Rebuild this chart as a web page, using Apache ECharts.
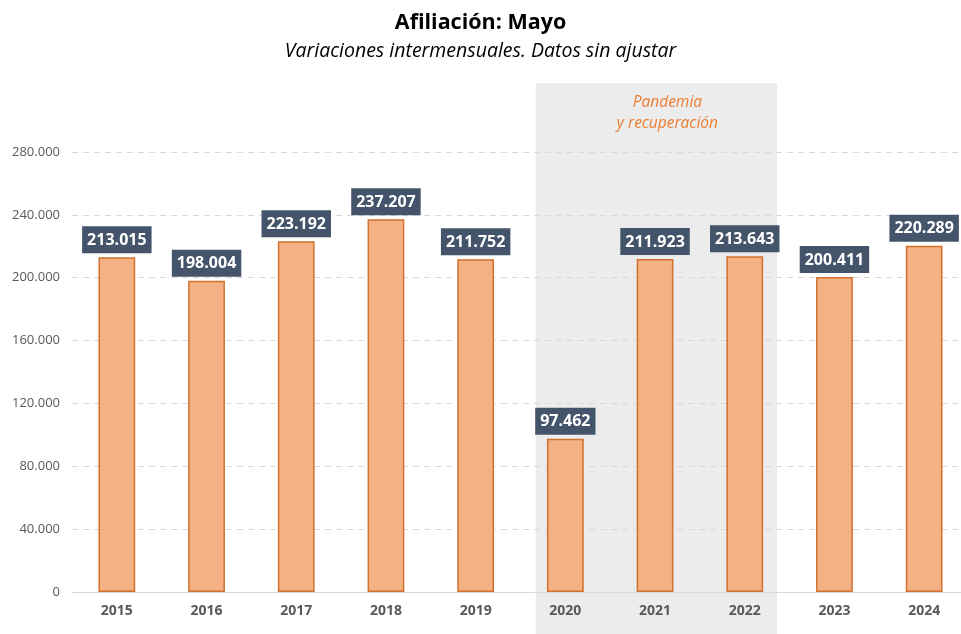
<!DOCTYPE html>
<html>
<head>
<meta charset="utf-8">
<script src="https://cdn.jsdelivr.net/npm/echarts@6/dist/echarts.min.js"></script>
<style>
  html, body { margin: 0; padding: 0; background: #fff; }
  #main { width: 961px; height: 634px; }
</style>
</head>
<body>
<div id="main"></div>
<script>
// datos
var years = ['2015', '2016', '2017', '2018', '2019', '2020', '2021', '2022', '2023', '2024'];
var afiliados = [213015, 198004, 223192, 237207, 211752, 97462, 211923, 213643, 200411, 220289];
var yTicks = [0, 40000, 80000, 120000, 160000, 200000, 240000, 280000];
// tramo sombreado (pandemia), en posiciones de categoria
var tramoPandemia = [4.67, 7.36];

function fmt(v) {
	return String(v).replace(/\B(?=(\d{3})+(?!\d))/g, '.');
}

var myChart = echarts.init(document.getElementById('main'));
var option = {
	backgroundColor: '#fff',
	animation: false,
	title: {
		text: 'Afiliación: Mayo',
		subtext: 'Variaciones intermensuales. Datos sin ajustar',
		left: 'center',
		top: 7,
		itemGap: 7,
		textStyle: {
			fontFamily: 'Open Sans',
			fontSize: 21.5,
			fontWeight: 'bold',
			color: '#000'
		},
		subtextStyle: {
			fontFamily: 'Open Sans',
			fontSize: 19.5,
			fontStyle: 'italic',
			color: '#000'
		}
	},
	grid: {
		left: 72,
		width: 897,
		top: 152,
		bottom: 42,
		containLabel: false,
		outerBoundsMode: 'none'
	},
	xAxis: [{
		type: 'category',
		data: years,
		axisLine: { lineStyle: { color: '#d9d9d9', width: 1 } },
		axisTick: { show: false },
		axisLabel: {
			margin: 12,
			fontFamily: 'Open Sans',
			fontSize: 14,
			fontWeight: 'bold',
			color: '#595959'
		}
	}, {
		type: 'value',
		min: -0.5,
		max: 9.5,
		show: false
	}],
	yAxis: {
		type: 'value',
		min: yTicks[0],
		max: yTicks[yTicks.length - 1],
		interval: 40000,
		axisLine: { show: false },
		axisTick: { show: false },
		splitLine: { lineStyle: { color: '#d9d9d9', type: [6, 5], width: 1 } },
		axisLabel: {
			margin: 12,
			fontFamily: 'Open Sans',
			fontSize: 13,
			color: '#595959',
			formatter: function (v) { return fmt(v); }
		}
	},
	series: [{
		name: 'Afiliación',
		type: 'bar',
		data: afiliados,
		barWidth: '41%',
		itemStyle: {
			color: '#F4B183',
			borderColor: '#D2702F',
			borderWidth: 1.5
		},
		label: {
			show: true,
			position: 'top',
			distance: 4,
			formatter: function (p) { return fmt(p.value); },
			backgroundColor: '#44546A',
			padding: [6, 5, 5, 5],
			fontFamily: 'Open Sans',
			fontSize: 16,
			fontWeight: 'bold',
			color: '#fff'
		}
	}]
};
myChart.setOption(option);

// banda gris de la pandemia, calculada con las escalas del grafico
var x0 = myChart.convertToPixel({ xAxisIndex: 1 }, tramoPandemia[0]);
var x1 = myChart.convertToPixel({ xAxisIndex: 1 }, tramoPandemia[1]);
myChart.setOption({
	graphic: [{
		type: 'rect',
		z: -10,
		silent: true,
		shape: { x: x0, y: 83, width: x1 - x0, height: 634 - 83 },
		style: { fill: '#ececec' }
	}, {
		type: 'text',
		z: 10,
		silent: true,
		x: (x0 + x1) / 2 + 11,
		y: 92,
		style: {
			text: 'Pandemia\ny recuperación',
			align: 'center',
			verticalAlign: 'top',
			lineHeight: 21,
			fontFamily: 'Open Sans',
			fontSize: 15.5,
			fontStyle: 'italic',
			fill: '#ED7D31'
		}
	}]
});
</script>
</body>
</html>
